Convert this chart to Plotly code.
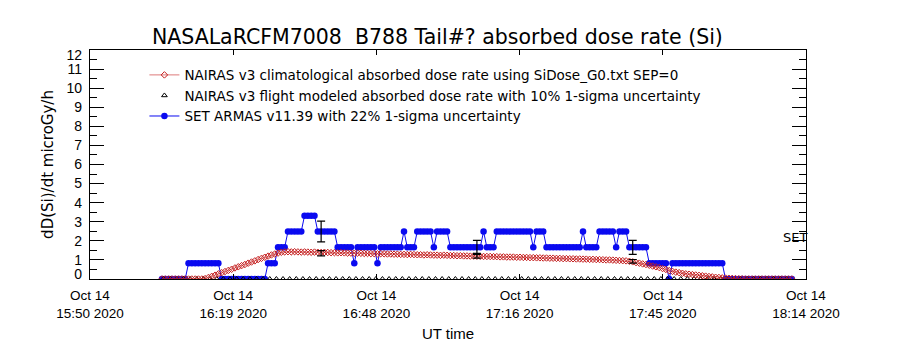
import pandas as pd
import plotly.graph_objects as go

# ---------------- data ----------------
start_time = "2020-10-14 16:04:29"
step = "40s"

# SET ARMAS v11.39 absorbed dose rate (microGy/h)
armas_values = [
    0, 0, 0, 0, 0, 0, 0, 0,
    0.83, 0.83, 0.83, 0.83, 0.83, 0.83, 0.83, 0.83, 0.83, 0.83,
    0, 0, 0, 0, 0, 0, 0, 0, 0, 0, 0, 0, 0, 0,
    0.83, 0.83, 0.83,
    1.66, 1.66, 1.66,
    2.49, 2.49, 2.49, 2.49, 2.49,
    3.32, 3.32, 3.32, 3.32,
    2.49, 2.49, 2.49, 2.49, 2.49, 2.49,
    1.66, 1.66, 1.66, 1.66, 1.66,
    0.83,
    1.66, 1.66, 1.66, 1.66, 1.66, 1.66,
    0.83,
    1.66, 1.66, 1.66, 1.66, 1.66, 1.66, 1.66,
    2.49,
    1.66, 1.66, 1.66,
    2.49, 2.49, 2.49, 2.49, 2.49,
    1.66,
    2.49, 2.49, 2.49, 2.49,
    1.66, 1.66, 1.66, 1.66, 1.66, 1.66, 1.66, 1.66, 1.66, 1.66,
    2.49,
    1.66, 1.66, 1.66,
    2.49, 2.49, 2.49, 2.49, 2.49, 2.49, 2.49, 2.49, 2.49, 2.49, 2.49,
    1.66,
    2.49, 2.49, 2.49,
    1.66, 1.66, 1.66, 1.66, 1.66, 1.66, 1.66, 1.66, 1.66, 1.66, 1.66,
    2.49,
    1.66, 1.66, 1.66, 1.66,
    2.49, 2.49, 2.49, 2.49, 2.49,
    1.66,
    2.49, 2.49, 2.49,
    1.66, 1.66, 1.66, 1.66, 1.66, 1.66,
    0.83, 0.83, 0.83, 0.83, 0.83, 0.83,
    0,
    0.83, 0.83, 0.83, 0.83, 0.83, 0.83, 0.83, 0.83, 0.83, 0.83, 0.83, 0.83, 0.83, 0.83, 0.83, 0.83,
    0, 0, 0, 0, 0, 0, 0, 0, 0, 0, 0, 0, 0, 0, 0, 0, 0, 0, 0, 0, 0,
]

# NAIRAS v3 climatological absorbed dose rate (microGy/h)
nairas_clim_values = [
    0, 0, 0, 0, 0, 0, 0, 0, 0, 0, 0, 0, 0,
    0.02, 0.08, 0.14, 0.2, 0.27, 0.33, 0.39, 0.45, 0.51, 0.58, 0.64, 0.7, 0.76,
    0.83, 0.89, 0.95, 1.02, 1.08, 1.14, 1.2, 1.26, 1.31, 1.36, 1.4, 1.42,
    1.43, 1.42, 1.43, 1.42, 1.41, 1.42, 1.41, 1.40, 1.41, 1.40,
    1.39, 1.40, 1.39, 1.38, 1.38, 1.37, 1.38, 1.37, 1.36, 1.36, 1.35, 1.36, 1.35,
    1.34, 1.34, 1.33, 1.33, 1.32, 1.33, 1.32, 1.31, 1.31, 1.30, 1.30, 1.29,
    1.29, 1.28, 1.29, 1.28, 1.27, 1.27, 1.26, 1.27, 1.26, 1.25, 1.25, 1.24, 1.25, 1.24,
    1.23, 1.23, 1.22, 1.22, 1.21, 1.21, 1.20, 1.20,
    1.19, 1.19, 1.18, 1.18, 1.18, 1.17, 1.17, 1.16, 1.16, 1.15, 1.15, 1.15, 1.14, 1.14,
    1.13, 1.13, 1.12, 1.12, 1.11, 1.11, 1.10, 1.10, 1.09,
    1.09, 1.08, 1.08, 1.07, 1.07, 1.06, 1.06, 1.05, 1.05, 1.04, 1.04, 1.03, 1.03, 1.02,
    1.02, 1.01, 1.00, 1.00, 0.99, 0.98, 0.97, 0.96, 0.95,
    0.93, 0.9, 0.86, 0.83, 0.79, 0.76, 0.72, 0.68, 0.64, 0.6,
    0.55, 0.5, 0.44, 0.4, 0.36, 0.33, 0.3, 0.27, 0.25, 0.23,
    0.21, 0.19, 0.17, 0.15, 0.13, 0.11, 0.09, 0.08, 0.06, 0.05,
    0.04, 0.03, 0.02, 0.01, 0.01,
    0, 0, 0, 0, 0, 0, 0, 0, 0, 0, 0, 0, 0, 0, 0,
]

# NAIRAS v3 flight modeled markers along the time axis (drawn at 0)
flight_marker_start = "2020-10-14 16:04:49"
flight_marker_step = "80s"
flight_marker_values = [0] * 95

# NAIRAS v3 flight modeled values with 10% 1-sigma (at error-bar points)
flight_times = ["2020-10-14 16:36:29", "2020-10-14 17:07:49", "2020-10-14 17:39:09"]
flight_values = [1.35, 1.22, 0.93]
flight_sigma = 0.10

# SET ARMAS values at the same points with 22% 1-sigma
armas_err_values = [2.49, 1.66, 1.66]
armas_sigma = 0.22

x_tick_times = ["2020-10-14 15:50:00", "2020-10-14 16:18:48", "2020-10-14 16:47:36",
                "2020-10-14 17:16:24", "2020-10-14 17:45:12", "2020-10-14 18:14:00"]
x_tick_labels = ["Oct 14<br>15:50 2020", "Oct 14<br>16:19 2020", "Oct 14<br>16:48 2020",
                 "Oct 14<br>17:16 2020", "Oct 14<br>17:45 2020", "Oct 14<br>18:14 2020"]
x_range = ["2020-10-14 15:50:00", "2020-10-14 18:14:00"]

y_major = [1, 2, 3, 4, 5, 6, 7, 8, 9, 10, 11]
y_minor = [0.5, 1.5, 2.5, 3.5, 4.5, 5.5, 6.5, 7.5, 8.5, 9.5, 10.5, 11.5]
y_label_pos = [0.25, 1, 2, 3, 4, 5, 6, 7, 8, 9, 10, 11, 11.75]
y_label_text = ["0", "1", "2", "3", "4", "5", "6", "7", "8", "9", "10", "11", "12"]

# ---------------- figure ----------------
times = pd.date_range(start=start_time, periods=len(armas_values), freq=step)
times_clim = pd.date_range(start=start_time, periods=len(nairas_clim_values), freq=step)
times_flight = pd.date_range(start=flight_marker_start, periods=len(flight_marker_values),
                             freq=flight_marker_step)

RED = "#c41e1e"
BLUE = "#0a0af0"
FONT = "Liberation Sans"
WFONT = "DejaVu Sans"

fig = go.Figure()

fig.add_trace(go.Scatter(
    x=times, y=armas_values, mode="lines+markers",
    name="SET ARMAS v11.39 with 22% 1-sigma uncertainty",
    line=dict(color=BLUE, width=1),
    marker=dict(symbol="circle", size=6.5, color=BLUE),
    legendrank=3,
))

fig.add_trace(go.Scatter(
    x=times_flight, y=flight_marker_values, mode="markers",
    name="NAIRAS v3 flight modeled absorbed dose rate with 10% 1-sigma uncertainty",
    marker=dict(symbol="triangle-up-open", size=5, color="black", line=dict(width=1)),
    legendrank=2,
))

fig.add_trace(go.Scatter(
    x=times_clim, y=nairas_clim_values, mode="lines+markers",
    name="NAIRAS v3 climatological absorbed dose rate using SiDose_G0.txt SEP=0",
    line=dict(color=RED, width=0.6),
    marker=dict(symbol="diamond-open", size=5, color=RED, line=dict(width=1)),
    legendrank=1,
))

fig.add_trace(go.Scatter(
    x=flight_times, y=armas_err_values, mode="markers", showlegend=False,
    marker=dict(size=1, color="rgba(0,0,0,0)"),
    error_y=dict(type="data", array=[v * armas_sigma for v in armas_err_values],
                 color="black", thickness=1.2, width=4),
))
fig.add_trace(go.Scatter(
    x=flight_times, y=flight_values, mode="markers", showlegend=False,
    marker=dict(size=1, color="rgba(0,0,0,0)"),
    error_y=dict(type="data", array=[v * flight_sigma for v in flight_values],
                 color="black", thickness=1.2, width=4),
))

# helper trace so the label axis is drawn
fig.add_trace(go.Scatter(
    x=[x_range[0]], y=[0], yaxis="y2", mode="markers", showlegend=False,
    marker=dict(opacity=0), hoverinfo="skip",
))

fig.add_annotation(text="SET", xref="paper", yref="y", x=1.004, y=2.2,
                   xanchor="right", yanchor="middle", showarrow=False,
                   font=dict(family=WFONT, size=13, color="black"))

fig.update_layout(
    width=900, height=350,
    margin=dict(l=90, r=94, t=50, b=71),
    plot_bgcolor="white", paper_bgcolor="white",
    font=dict(family=FONT, color="black", size=14),
    title=dict(text="NASALaRCFM7008  B788 Tail#? absorbed dose rate (Si)",
               x=0.486, xref="container", xanchor="center",
               y=0.894, yref="container", yanchor="middle",
               font=dict(family=WFONT, size=20.5, color="black")),
    showlegend=True,
    legend=dict(x=0.076, y=0.958, xanchor="left", yanchor="top",
                bgcolor="rgba(0,0,0,0)", font=dict(family=WFONT, size=13.5),
                tracegroupgap=0, itemwidth=30),
    xaxis=dict(
        type="date", range=x_range,
        tickmode="array", tickvals=x_tick_times, ticktext=x_tick_labels,
        ticks="inside", ticklen=5, tickcolor="black",
        showline=True, linecolor="black", linewidth=1, mirror="ticks",
        showgrid=False, zeroline=False,
        tickfont=dict(family=FONT, size=13.5),
        ticklabelstandoff=4,
        title=dict(text="UT time", font=dict(family=FONT, size=15), standoff=8),
    ),
    yaxis=dict(
        range=[0, 12], tickmode="array", tickvals=y_major,
        ticks="inside", ticklen=14, tickcolor="black",
        minor=dict(tickmode="array", tickvals=y_minor, ticks="inside", ticklen=7,
                   tickcolor="black", showgrid=False),
        showticklabels=False,
        showline=True, linecolor="black", linewidth=1, mirror="ticks",
        showgrid=False, zeroline=False,
    ),
    yaxis2=dict(
        range=[0, 12], overlaying="y", side="left",
        tickmode="array", tickvals=y_label_pos, ticktext=y_label_text,
        ticks="", showline=False, showgrid=False, zeroline=False,
        tickfont=dict(family=FONT, size=14),
        ticklabelstandoff=7,
        title=dict(text="dD(Si)/dt microGy/h", font=dict(family=WFONT, size=15), standoff=9),
    ),
)

fig.write_html("out.html")
